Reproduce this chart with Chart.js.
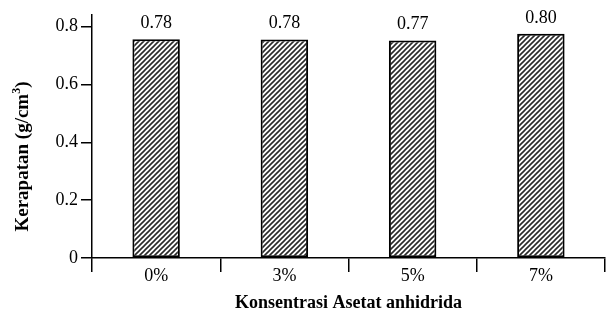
<!DOCTYPE html>
<html><head><meta charset="utf-8">
<script src="https://cdn.jsdelivr.net/npm/chart.js@4/dist/chart.umd.min.js"></script>
<style>html,body{margin:0;padding:0;background:#fff}#wrap{width:607px;height:312px}</style>
</head><body><div id="wrap"><canvas id="c" width="607" height="312"></canvas></div>
<script>
const categories = ["0%", "3%", "5%", "7%"];
const densityValues = [0.756, 0.755, 0.752, 0.775];
const valueLabels = ["0.78", "0.78", "0.77", "0.80"];
const yTickValues = [0, 0.2, 0.4, 0.6, 0.8];
const yTitleMain = "Kerapatan (g/cm";
const yTitleSup = "3";
const yTitleEnd = ")";
const xTitle = "Konsentrasi Asetat anhidrida";

function makeHatch() {
  const s = 5;
  const c = document.createElement('canvas');
  c.width = s; c.height = s;
  const g = c.getContext('2d');
  g.fillStyle = '#fff'; g.fillRect(0, 0, s, s);
  g.strokeStyle = '#2a2a2a'; g.lineWidth = 1.6;
  g.beginPath();
  g.moveTo(-1, s + 1); g.lineTo(s + 1, -1);
  g.moveTo(-1, 1); g.lineTo(1, -1);
  g.moveTo(s - 1, s + 1); g.lineTo(s + 1, s - 1);
  g.stroke();
  return g.createPattern(c, 'repeat');
}
const FONT = "'Liberation Serif', 'Times New Roman', serif";

const labelPlugin = {
  id: 'valLabels',
  afterDatasetsDraw(chart) {
    const ctx = chart.ctx;
    const meta = chart.getDatasetMeta(0);
    ctx.save();
    ctx.font = "18px " + FONT;
    ctx.fillStyle = '#000';
    ctx.textAlign = 'center';
    ctx.textBaseline = 'middle';
    meta.data.forEach((bar, i) => {
      ctx.fillText(valueLabels[i], bar.x, bar.y - 16);
    });
    ctx.restore();
  }
};

const yTitlePlugin = {
  id: 'yTitle',
  afterDraw(chart) {
    const ctx = chart.ctx;
    const ys = chart.scales.y;
    ctx.save();
    const big = "bold 19px " + FONT;
    const small = "bold 12px " + FONT;
    ctx.font = big;
    const w1 = ctx.measureText(yTitleMain).width;
    const w3 = ctx.measureText(yTitleEnd).width;
    ctx.font = small;
    const w2 = ctx.measureText(yTitleSup).width;
    const total = w1 + w2 + w3;
    const cx = ys.left + 23;
    const cy = (ys.top + ys.bottom) / 2 + 20;
    ctx.translate(cx, cy);
    ctx.rotate(-Math.PI / 2);
    ctx.fillStyle = '#000';
    ctx.textAlign = 'left';
    ctx.textBaseline = 'middle';
    let x = -total / 2;
    ctx.font = big; ctx.fillText(yTitleMain, x, 0); x += w1;
    ctx.font = small; ctx.fillText(yTitleSup, x, -6); x += w2;
    ctx.font = big; ctx.fillText(yTitleEnd, x, 0);
    ctx.restore();
  }
};

new Chart(document.getElementById('c'), {
  type: 'bar',
  data: {
    labels: categories,
    datasets: [{
      data: densityValues,
      backgroundColor: makeHatch(),
      borderColor: '#000',
      borderWidth: 2,
      borderSkipped: false,
      categoryPercentage: 1,
      barPercentage: 0.37
    }]
  },
  options: {
    responsive: false,
    animation: false,
    layout: { padding: { top: 15, right: 2, bottom: 0, left: 0 } },
    plugins: { legend: { display: false }, tooltip: { enabled: false } },
    scales: {
      x: {
        grid: { display: true, drawOnChartArea: false, drawTicks: true, tickLength: 14, color: '#000', lineWidth: 1.5, offset: true },
        border: { display: true, color: '#000', width: 1.5 },
        ticks: { color: '#000', font: { family: FONT, size: 18, lineHeight: 1 }, padding: -5, maxRotation: 0 },
        title: { display: true, text: xTitle, color: '#000', font: { family: FONT, size: 18, weight: 'bold', lineHeight: 1 }, padding: { top: 0, bottom: 0 } },
        afterFit(scale) { scale.height = 54; }
      },
      y: {
        min: 0, max: 0.84,
        grid: { display: true, drawOnChartArea: false, drawTicks: true, tickLength: 11, color: '#000', lineWidth: 1.5 },
        border: { display: true, color: '#000', width: 1.5 },
        ticks: { color: '#000', font: { family: FONT, size: 18 }, padding: 3 },
        afterBuildTicks(scale) { scale.ticks = yTickValues.map(v => ({ value: v })); },
        title: { display: false },
        afterFit(scale) { scale.width = 92; }
      }
    }
  },
  plugins: [labelPlugin, yTitlePlugin]
});
</script></body></html>
